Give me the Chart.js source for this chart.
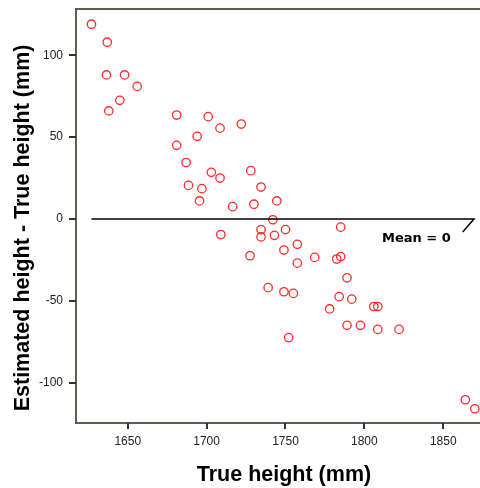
<html>
    <head>
        <title>Estimated vs true height</title>
        <script src="https://cdn.jsdelivr.net/npm/chart.js@4.4.1/dist/chart.umd.min.js"></script>
        <style>
            body { margin: 0; overflow: hidden; background: #fff; }
        </style>
    </head>
    <body>
        <canvas id="scatter" width="480" height="488"></canvas>
        <script>
            // true height (mm) and estimated - true (mm)
            const trueHeight = [
                1627, 1637, 1636.5, 1648, 1656, 1645, 1638, 1681, 1701, 1708.5,
                1722, 1694, 1681, 1687, 1703, 1708.5, 1728, 1688.5, 1697, 1734.5,
                1695.5, 1730, 1716.5, 1744.5, 1742, 1709, 1734.5, 1734.5, 1727.5, 1739,
                1743, 1750, 1757.5, 1749, 1757.5, 1768.5, 1782.5, 1785, 1785, 1789,
                1749, 1755, 1752, 1784, 1792, 1778, 1806, 1808.5, 1789, 1797.5,
                1808.5, 1822, 1864, 1870
            ];
            const heightDiff = [
                119, 108, 88, 88, 81, 72.5, 66, 63.5, 62.5, 55.5,
                58, 50.5, 45, 34.5, 28.5, 25, 29.5, 20.5, 18.5, 19.5,
                11, 9, 7.5, 11, -0.5, -9.5, -6.5, -11, -22.5, -42,
                -10, -6.5, -15.5, -19, -27, -23.5, -24.5, -23, -5, -36,
                -44.5, -45.5, -72.5, -47.5, -49, -55, -53.5, -53.5, -65, -65,
                -67.5, -67.5, -110.5, -116
            ];
            // mean reference line with its label leader
            const meanLineX = [1627, 1869.5, 1862.3];
            const meanLineY = [0, 0, -8];
            const meanLabel = 'Mean = 0';
            const meanLabelAt = [1833, -12];

            const xTicks = [1650, 1700, 1750, 1800, 1850];
            const yTicks = [-100, -50, 0, 50, 100];

            let points = [];
            for (let i = 0; i < trueHeight.length; i++) {
                points.push({x: trueHeight[i], y: heightDiff[i]});
            }
            let meanPts = [];
            for (let i = 0; i < meanLineX.length; i++) {
                meanPts.push({x: meanLineX[i], y: meanLineY[i]});
            }

            const axisColor = '#5e5e52';
            const tickFont = {family: "'Liberation Sans Narrow', 'Liberation Sans', Arial", size: 12};
            const titleFont = {family: "'Liberation Sans', Arial", size: 21.5, weight: 'bold', lineHeight: 1};

            const extras = {
                id: 'extras',
                afterDraw: (chart) => {
                    const ctx = chart.ctx;
                    const a = chart.chartArea;
                    ctx.save();
                    // top frame line
                    ctx.strokeStyle = axisColor;
                    ctx.lineWidth = 2;
                    ctx.beginPath();
                    ctx.moveTo(a.left - 1, a.top);
                    ctx.lineTo(chart.width, a.top);
                    ctx.stroke();
                    // tick marks
                    ctx.strokeStyle = '#333';
                    ctx.beginPath();
                    for (let v of xTicks) {
                        let px = Math.round(chart.scales.x.getPixelForValue(v));
                        ctx.moveTo(px, a.bottom);
                        ctx.lineTo(px, a.bottom + 6);
                    }
                    for (let v of yTicks) {
                        let py = Math.round(chart.scales.y.getPixelForValue(v));
                        ctx.moveTo(a.left, py);
                        ctx.lineTo(a.left - 7, py);
                    }
                    ctx.stroke();
                    // mean label
                    ctx.fillStyle = '#000';
                    ctx.font = "bold 13px 'DejaVu Sans'";
                    ctx.textAlign = 'center';
                    ctx.textBaseline = 'middle';
                    ctx.fillText(meanLabel,
                        chart.scales.x.getPixelForValue(meanLabelAt[0]),
                        chart.scales.y.getPixelForValue(meanLabelAt[1]));
                    ctx.restore();
                }
            };

            new Chart(document.getElementById('scatter'), {
                type: 'scatter',
                data: {
                    datasets: [
                        {
                            data: meanPts,
                            showLine: true,
                            borderColor: '#000',
                            borderWidth: 1.5,
                            pointRadius: 0,
                            fill: false
                        },
                        {
                            data: points,
                            borderColor: '#ff2a2a',
                            backgroundColor: 'rgba(0,0,0,0)',
                            borderWidth: 1.3,
                            pointRadius: 4.2,
                            pointHoverRadius: 4.2
                        }
                    ]
                },
                options: {
                    responsive: false,
                    animation: false,
                    layout: {autoPadding: false, padding: {top: 9, left: 0, right: 0, bottom: 0}},
                    plugins: {
                        legend: {display: false},
                        tooltip: {enabled: false}
                    },
                    scales: {
                        x: {
                            type: 'linear',
                            min: 1617.2,
                            max: 1873.3,
                            afterBuildTicks: (scale) => { scale.ticks = xTicks.map(v => ({value: v})); },
                            afterFit: (scale) => { scale.height = 65; scale.paddingRight = 0; scale.paddingLeft = 0; },
                            grid: {display: false},
                            border: {display: true, color: axisColor, width: 2},
                            ticks: {font: tickFont, color: '#222', padding: 3, maxRotation: 0, callback: (v) => String(v)},
                            title: {display: true, text: '  True height (mm)', font: titleFont, color: '#000', padding: {top: 0, bottom: 2.5}}
                        },
                        y: {
                            type: 'linear',
                            min: -124.7,
                            max: 128.3,
                            afterBuildTicks: (scale) => { scale.ticks = yTicks.map(v => ({value: v})); },
                            afterFit: (scale) => { scale.width = 76; scale.paddingTop = 0; scale.paddingBottom = 0; },
                            grid: {display: false},
                            border: {display: true, color: axisColor, width: 2},
                            ticks: {font: tickFont, color: '#222', padding: 5, callback: (v) => String(v)},
                            title: {display: true, text: 'Estimated height - True height (mm)    ', font: titleFont, color: '#000', padding: {top: 12.5, bottom: 0}}
                        }
                    }
                },
                plugins: [extras]
            });
        </script>
    </body>
</html>
